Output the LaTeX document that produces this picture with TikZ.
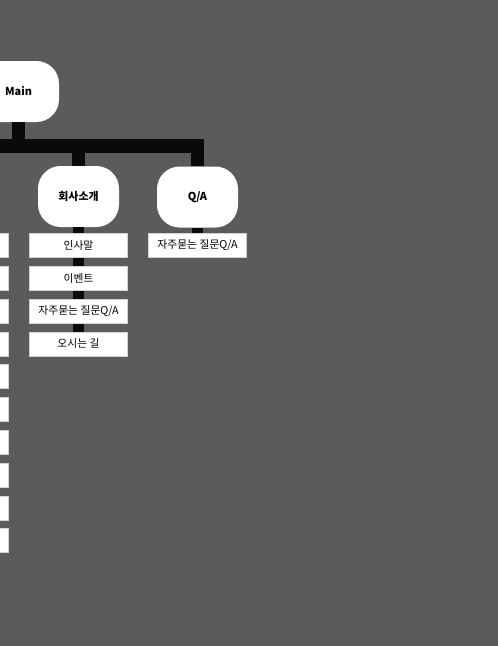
\documentclass[tikz,border=0pt]{standalone}
\usepackage{fontspec}
\setmainfont{Noto Sans CJK KR}
\usetikzlibrary{positioning}

\definecolor{bggray}{RGB}{92,91,89}
\definecolor{barblack}{RGB}{10,10,10}
\tikzset{
  menubox/.style={fill=white, rounded corners=17pt, minimum width=60.75pt, minimum height=45.75pt, inner sep=0pt, font=\fontsize{8.2}{9}\selectfont\bfseries},
  pagebox/.style={fill=white, draw=gray!35, line width=0.6pt, minimum width=73.5pt, minimum height=18pt, inner sep=0pt, font=\fontsize{8.1}{9}\selectfont},
  link/.style={draw=barblack, line width=10pt},
  sublink/.style={draw=barblack, line width=8pt}
}

\begin{document}
\begin{tikzpicture}[x=0.75pt, y=-0.75pt]
\useasboundingbox (0,0) rectangle (498,646);
\clip (0,0) rectangle (498,646);
\fill[bggray] (0,0) rectangle (498,646);
% menu nodes
\node[menubox] (main) at (18.5,91.5) {Main};
\node[menubox] (about) at (78.5,196.5) {회사소개};
\node[menubox] (qa) at (197.5,197) {Q/A};
\coordinate (barwest) at (-41,146);
\draw[link] (main.south) -- (main.south |- barwest);
\draw[link] (barwest) -| (about.north);
\draw[link] (barwest) -| (qa.north);
% pages
\foreach \t [count=\i] in {인사말,이벤트,자주묻는 질문Q/A,오시는 길}
  \node[pagebox] (about\i) at (78.5,245.5+32.8*\i-32.8) {\t};
\draw[sublink] (about.south) -- (about1.north);
\foreach \i/\j in {1/2,2/3,3/4} \draw[sublink] (about\i.south) -- (about\j.north);
\node[pagebox] (qa1) at (197.5,245.5) {자주묻는 질문Q/A};
\draw[sublink] (qa.south) -- (qa1.north);
% left column, cut off
\foreach \i in {1,...,10} \node[pagebox] (left\i) at (-41,245.5+32.8*\i-32.8) {};
\end{tikzpicture}
\end{document}
